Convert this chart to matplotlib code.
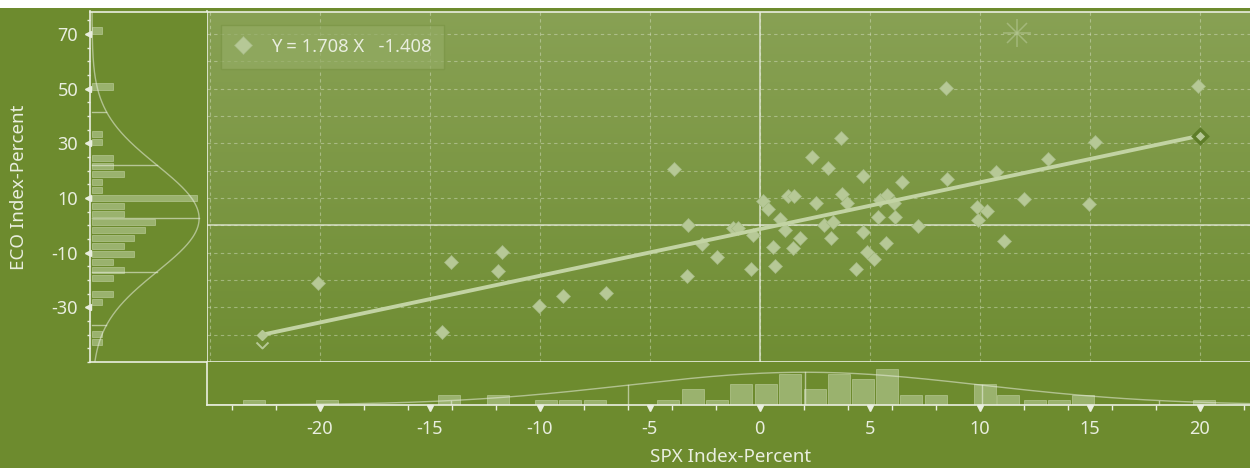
import numpy as np
import matplotlib
matplotlib.use('Agg')
import matplotlib.pyplot as plt
from matplotlib.colors import LinearSegmentedColormap
from matplotlib.path import Path
from matplotlib.ticker import MultipleLocator, FixedLocator
from matplotlib.patches import Rectangle

# SPX vs ECO monthly change, percent
spx = [-20.09, -14.42, -14.04, -11.88, -11.72, -10.01, -8.92, -6.98, -3.88, -3.24,
       -3.31, -2.63, -1.92, -1.22, -1.00, -0.29, -0.40, 0.14, 0.40, 0.93,
       1.15, 0.60, 0.70, 1.28, 1.58, 1.84, 1.53, 3.69, 2.37, 3.12,
       4.69, 6.46, 8.53, 3.73, 3.96, 2.55, 5.47, 5.80, 6.11, 5.40,
       6.15, 7.21, 2.93, 3.35, 3.23, 4.69, 5.75, 4.87, 5.20, 4.38,
       9.87, 9.94, 8.47, 19.94, 15.25, 13.10, 10.75, 12.02, 14.97, 11.12,
       10.35]
eco = [-21.21, -38.90, -13.53, -16.60, -9.87, -29.40, -25.74, -24.64, 20.59, 0.11,
       -18.54, -6.95, -11.48, -1.10, -1.10, -3.55, -16.09, 8.99, 5.85, 2.19,
       -1.72, -7.82, -14.88, 10.82, 10.82, -4.75, -8.41, 31.81, 25.08, 21.06,
       18.03, 15.94, 16.93, 11.44, 8.26, 8.26, 9.25, 11.08, 8.26, 3.14,
       3.14, -0.26, 0.11, 1.32, -4.75, -2.34, -6.36, -9.65, -12.43, -16.09,
       6.58, 1.94, 50.09, 51.04, 30.57, 24.24, 19.60, 9.51, 7.79, -5.63,
       5.34]
outlier_x = [11.68]
outlier_y = [70.2]

# least squares fit
slope = 1.708
intercept = -1.408
fit_range = [-22.63, 20.0]

# marginal histogram of SPX
spx_bins = [-23.0, -19.66, -14.1, -11.9, -9.69, -8.6, -7.48, -4.16, -3.05, -1.94,
            -0.83, 0.28, 1.4, 2.5, 3.6, 4.7, 5.8, 6.9, 8.0, 10.25,
            11.3, 12.5, 13.6, 14.7, 20.2]
spx_counts = [1, 1, 2, 2, 1, 1, 1, 1, 3, 1,
              4, 4, 6, 3, 6, 5, 7, 2, 2, 4,
              2, 1, 1, 2, 1]
spx_mean, spx_sd, spx_peak = 2.06, 8.05, 6.3

# marginal histogram of ECO
eco_bins = [71.3, 50.8, 33.4, 30.5, 24.6, 21.7, 18.8, 15.8, 12.9, 10.0,
            7.1, 4.1, 1.2, -1.7, -4.7, -7.6, -10.5, -13.4, -16.3, -19.3,
            -25.1, -28.0, -39.7, -42.7]
eco_counts = [1, 2, 1, 1, 2, 2, 3, 1, 1, 10,
              3, 3, 6, 5, 4, 3, 4, 2, 3, 2,
              2, 1, 1, 1]
eco_mean, eco_sd, eco_peak = 2.5, 19.5, 10.2

x_ticks = [-20, -15, -10, -5, 0, 5, 10, 15, 20]
y_ticks = [-30, -10, 10, 30, 50, 70]

xlim = (-25.12, 22.29)
ylim = (-50.0, 78.2)

bg = '#6d8b2e'
fg = '#e9eedf'
mark = '#b6c896'
bar_c = '#a3b97a'

plt.rcParams['font.family'] = ['Noto Sans', 'DejaVu Sans']
plt.rcParams['axes.unicode_minus'] = False

W, H = 1250, 468
fig = plt.figure(figsize=(W / 100, H / 100), dpi=100)
fig.patch.set_facecolor(bg)
fig.patches.append(Rectangle((0, 1 - 7.5 / H), 1, 7.5 / H, transform=fig.transFigure,
                             facecolor='white', edgecolor='none'))


def box(l, t, r, b):
    return [l / W, 1 - b / H, (r - l) / W, (b - t) / H]


ax = fig.add_axes(box(207, 11.5, 1250, 362))
ax_l = fig.add_axes(box(90, 11.5, 207, 362))
ax_b = fig.add_axes(box(207, 362, 1250, 405))

# --- main scatter panel ---
grad = LinearSegmentedColormap.from_list('bg', ['#88a154', '#6f8d33'])
ax.imshow(np.linspace(0, 1, 256).reshape(-1, 1), cmap=grad, aspect='auto',
          extent=[xlim[0], xlim[1], ylim[0], ylim[1]], zorder=0)
ax.set_xlim(xlim)
ax.set_ylim(ylim)
ax.xaxis.set_major_locator(MultipleLocator(5))
ax.yaxis.set_major_locator(MultipleLocator(10))
ax.tick_params(length=0, labelbottom=False, labelleft=False)
ax.grid(True, color=fg, alpha=0.4, linestyle=(0, (3, 3)), linewidth=0.8)
ax.axhline(0, color=fg, lw=1.1, alpha=0.85, zorder=1)
ax.axvline(0, color=fg, lw=1.1, alpha=0.85, zorder=1)
for side in ['left', 'top', 'bottom']:
    ax.spines[side].set_color(fg)
    ax.spines[side].set_linewidth(1.2)
ax.spines['right'].set_visible(False)

ax.plot(spx, eco, 'D', ms=7.2, color=mark, mec='#a4b982', mew=0.5, zorder=3,
        label=f'Y = {slope:.3f} X   {intercept:.3f}')
ax.plot(outlier_x, outlier_y, '+', ms=20, color=mark, alpha=0.6, mew=1.1, zorder=3)
ax.plot(outlier_x, outlier_y, 'x', ms=14, color=mark, alpha=0.6, mew=1.1, zorder=3)

fx = np.array(fit_range)
fy = slope * fx + intercept
ax.plot(fx, fy, color='#c2d3a3', lw=2.8, solid_capstyle='butt', zorder=4)
ax.plot(fx[:1], fy[:1], 'D', ms=5, color=mark, zorder=5)
chevron = Path([(-6, -7), (0, -13), (6, -7)], [Path.MOVETO, Path.LINETO, Path.LINETO])
ax.plot(fx[:1], fy[:1], marker=chevron, ms=18.7, mfc='none', mec=mark, mew=1.4, ls='none', zorder=5)
ax.plot(fx[1:], fy[1:], 'D', ms=7, mfc=mark, mec='#5e7d28', mew=2.4, zorder=5)

leg = ax.legend(loc='upper left', bbox_to_anchor=(14 / 1043, 1 - 13.5 / 350.5),
                borderaxespad=0, fancybox=False, fontsize=13.3, labelcolor=fg,
                handlelength=1.0, handletextpad=1.0, borderpad=0.7, markerscale=1.25)
leg.get_frame().set_facecolor('#93ab63')
leg.get_frame().set_alpha(0.7)
leg.get_frame().set_edgecolor('#7a9545')

# --- ECO histogram on the left ---
ax_l.set_facecolor(bg)
ax_l.barh(eco_bins, eco_counts, height=2.3, left=0, color=bar_c, alpha=0.85,
          edgecolor='#b3c690', linewidth=0.6)
ys = np.linspace(ylim[0], ylim[1], 400)
ax_l.plot(eco_peak * np.exp(-0.5 * ((ys - eco_mean) / eco_sd) ** 2), ys,
          color=fg, alpha=0.55, lw=1)
for k in [-2, -1, 0, 1, 2]:
    yk = eco_mean + k * eco_sd
    ax_l.plot([0, eco_peak * np.exp(-0.5 * k * k)], [yk, yk], color=fg, alpha=0.6, lw=1)
ax_l.set_xlim(-0.19, 10.95)
ax_l.set_ylim(ylim)
ax_l.yaxis.set_major_locator(FixedLocator(y_ticks))
ax_l.yaxis.set_minor_locator(MultipleLocator(5))
ax_l.tick_params(axis='y', which='major', length=0, pad=8.5, labelsize=13, labelcolor=fg)
ax_l.tick_params(axis='y', which='minor', length=2.5, width=1, color=fg)
ax_l.tick_params(axis='x', length=0, labelbottom=False)
ax_l.plot([-0.021] * len(y_ticks), y_ticks, '<', ms=4.5, color=fg,
          transform=ax_l.get_yaxis_transform(), clip_on=False)
for side in ['left', 'top', 'bottom']:
    ax_l.spines[side].set_color(fg)
    ax_l.spines[side].set_linewidth(1.2)
ax_l.spines['right'].set_visible(False)

# --- SPX histogram below ---
ax_b.set_facecolor(bg)
ax_b.bar(spx_bins, spx_counts, width=1.0, color=bar_c, alpha=0.85,
         edgecolor='#b3c690', linewidth=0.6)
xs = np.linspace(xlim[0], xlim[1], 400)
ax_b.plot(xs, spx_peak * np.exp(-0.5 * ((xs - spx_mean) / spx_sd) ** 2),
          color=fg, alpha=0.55, lw=1)
for k in [-2, -1, 0, 1, 2]:
    xk = spx_mean + k * spx_sd
    ax_b.plot([xk, xk], [0, spx_peak * np.exp(-0.5 * k * k)], color=fg, alpha=0.6, lw=1)
ax_b.set_xlim(xlim)
ax_b.set_ylim(0, 8.27)
ax_b.xaxis.set_major_locator(FixedLocator(x_ticks))
ax_b.xaxis.set_minor_locator(MultipleLocator(2))
ax_b.tick_params(axis='x', which='major', length=0, pad=11, labelsize=13, labelcolor=fg)
ax_b.tick_params(axis='x', which='minor', length=3.5, width=1, color=fg)
ax_b.tick_params(axis='y', length=0, labelleft=False)
ax_b.plot(x_ticks, [-0.075] * len(x_ticks), 'v', ms=5, color=fg,
          transform=ax_b.get_xaxis_transform(), clip_on=False)
for side in ['left', 'bottom']:
    ax_b.spines[side].set_color(fg)
    ax_b.spines[side].set_linewidth(1.2)
ax_b.spines['top'].set_visible(False)
ax_b.spines['right'].set_visible(False)

fig.text(731 / W, 1 - 457 / H, 'SPX Index-Percent', color=fg, fontsize=13.5,
         ha='center', va='center')
fig.text(19 / W, 1 - 187.5 / H, 'ECO Index-Percent', color=fg, fontsize=13.5,
         rotation=90, ha='center', va='center')

fig.savefig('out.png', dpi=100, facecolor=bg)
